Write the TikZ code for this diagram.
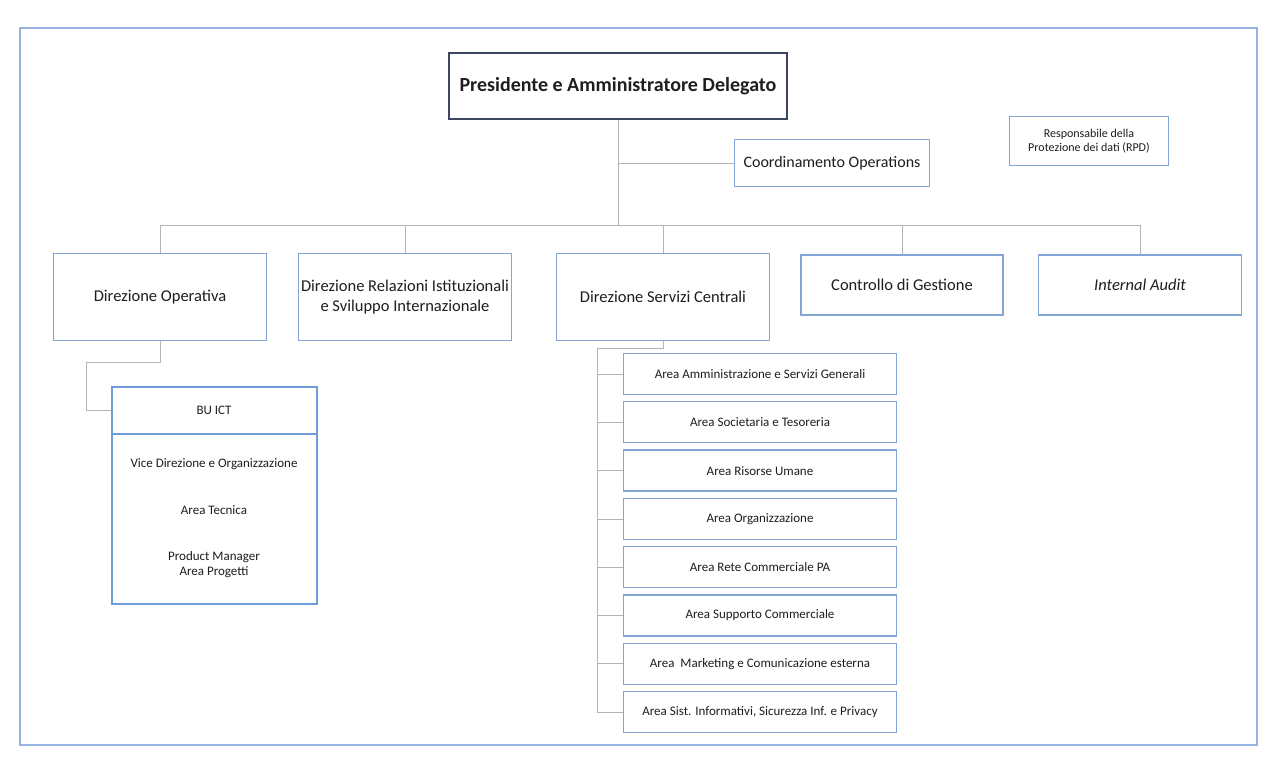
\documentclass[tikz,border=0pt]{standalone}
\usepackage{fontspec}
\setmainfont{Carlito}
\definecolor{boxblue}{RGB}{132,166,214}
\definecolor{deepblue}{RGB}{110,156,216}
\definecolor{framecol}{RGB}{150,180,225}
\definecolor{presdark}{RGB}{60,70,96}
\definecolor{conncol}{RGB}{180,180,180}
\definecolor{txt}{RGB}{30,30,30}
\begin{document}
\begin{tikzpicture}[x=1pt,y=-1pt,
  box/.style={draw=boxblue, line width=1.3pt, fill=white, align=center, text=txt,
    inner sep=2pt, font=\fontsize{16.5}{20}\selectfont},
  presbox/.style={box, draw=presdark, line width=1.8pt, font=\bfseries\fontsize{20}{24}\selectfont},
  areabox/.style={box, minimum width=273pt, minimum height=41pt, font=\fontsize{13}{15.5}\selectfont},
  bubox/.style={box, draw=deepblue, line width=2pt, font=\fontsize{13}{15.5}\selectfont},
  conn/.style={draw=conncol, line width=0.8pt},
  framebox/.style={draw=framecol, line width=1.3pt}
]
\useasboundingbox (0,0) rectangle (1275,762);
\fill[white] (0,0) rectangle (1275,762);
\draw[framebox] (20,28) rectangle (1257,745);

% top level
\node[presbox, minimum width=338pt, minimum height=66pt] (pres) at (618,86) {Presidente e Amministratore Delegato};
\node[box, minimum width=195pt, minimum height=47pt, font=\fontsize{16}{19}\selectfont] (coord) at (832,163) {Coordinamento Operations};
\node[box, minimum width=159pt, minimum height=49pt, font=\fontsize{12}{13.5}\selectfont] (rpd) at (1089,141) {Responsabile della\\Protezione dei dati (RPD)};

% second level
\node[box, minimum width=213pt, minimum height=87pt] (dirop) at (160,297) {Direzione Operativa};
\node[box, minimum width=213pt, minimum height=87pt] (dri) at (405,297) {Direzione Relazioni Istituzionali\\e Sviluppo Internazionale};
\node[box, minimum width=213pt, minimum height=87pt] (dsc) at (663,297) {Direzione Servizi Centrali};
\node[box, minimum width=202pt, minimum height=60pt] (cdg) at (902,285) {Controllo di Gestione};
\node[box, minimum width=203pt, minimum height=60pt, font=\itshape\fontsize{16.5}{20}\selectfont] (ia) at (1140,285) {Internal Audit};

% BU ICT
\node[bubox, minimum width=205pt, minimum height=48pt] (buict) at (214,410.5) {BU ICT};
\node[bubox, minimum width=205pt, minimum height=170pt] (buteam) at (214,518.5) {Vice Direzione e Organizzazione\\[31.5pt]Area Tecnica\\[30pt]Product Manager\\Area Progetti};

% areas
\node[areabox] (a1) at (760,374) {Area Amministrazione e Servizi Generali};
\node[areabox] (a2) at (760,422.3) {Area Societaria e Tesoreria};
\node[areabox] (a3) at (760,470.6) {Area Risorse Umane};
\node[areabox] (a4) at (760,518.9) {Area Organizzazione};
\node[areabox] (a5) at (760,567.2) {Area Rete Commerciale PA};
\node[areabox] (a6) at (760,615.5) {Area Supporto Commerciale};
\node[areabox] (a7) at (760,663.8) {Area\ \ Marketing e Comunicazione esterna};
\node[areabox] (a8) at (760,712.1) {Area Sist. Informativi, Sicurezza Inf. e Privacy};

% connectors
\coordinate (busy) at (0,225);
\draw[conn] (pres.south) -- (pres.south |- busy);
\draw[conn] (pres.south |- coord.west) -- (coord.west);
\draw[conn] (dirop.north |- busy) -- (ia.north |- busy);
\foreach \n in {dirop,dri,dsc,cdg,ia} {
  \draw[conn] (\n.north |- busy) -- (\n.north);
}
\coordinate (k1) at (86,362);
\draw[conn] (dirop.south) |- (k1) |- (buict.west);
\coordinate (spine) at (597,348);
\draw[conn] (dsc.south) |- (spine) -- (spine |- a8.west);
\foreach \n in {a1,a2,a3,a4,a5,a6,a7,a8} {
  \draw[conn] (spine |- \n.west) -- (\n.west);
}
\end{tikzpicture}
\end{document}
